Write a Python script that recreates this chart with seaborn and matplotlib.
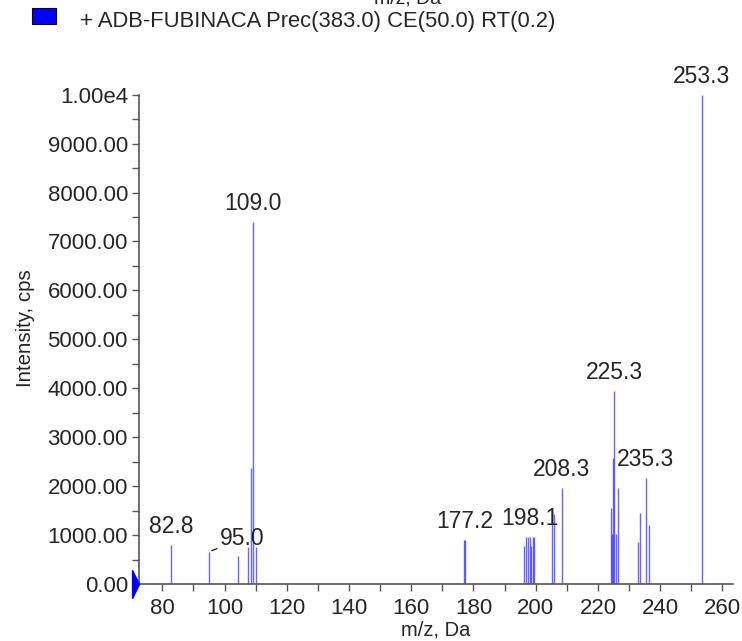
import numpy as np
import pandas as pd
import matplotlib
matplotlib.use('Agg')
import matplotlib.pyplot as plt
import matplotlib.ticker as mticker
import seaborn as sns

# peak list (m/z, intensity in cps)
mz = [82.8, 95.0, 104.2, 107.6, 108.4, 109.0, 110.0,
      176.9, 177.2,
      196.3, 197.0, 197.4, 198.1, 198.5, 199.2, 199.6,
      205.3, 205.8, 208.3,
      224.1, 224.4, 224.8, 225.3, 225.7, 226.3,
      233.0, 233.4, 235.3, 236.3, 253.3]
intensity = [800, 660, 570, 760, 2380, 7400, 760,
             900, 900,
             780, 960, 960, 960, 780, 960, 960,
             1490, 1430, 1970,
             1560, 1020, 2570, 3950, 1020, 1960,
             850, 1460, 2160, 1210, 10000]

# labelled peaks
label_mz = [82.8, 109.0, 177.2, 198.1, 208.3, 225.3, 235.3, 253.3]
label_int = [800, 7400, 900, 960, 1970, 3950, 2160, 10000]

legend_text = '+ ADB-FUBINACA Prec(383.0) CE(50.0) RT(0.2)'

df = pd.DataFrame({'mz': mz, 'intensity': intensity})

sns.set_style('white')
plt.rcParams['font.family'] = ['Liberation Sans', 'DejaVu Sans']

fig = plt.figure(figsize=(7.42, 6.41), dpi=100)
ax = fig.add_axes([139/742, 1-584/641, (733-139)/742, (584-94.7)/641])

ax.vlines(df['mz'], 0, df['intensity'], color='blue', alpha=0.6, lw=1.0)

ax.set_xlim(72.5, 263.4)
ax.set_ylim(0, 10000)

# peak labels, centred just above each peak
for m, v in zip(label_mz, label_int):
    ax.annotate(f'{m:.1f}', xy=(m, v), xytext=(0, 5), textcoords='offset points',
                ha='center', va='bottom', fontsize=16.5, annotation_clip=False)
# 95.0 has a leader line
ax.annotate('95.0', xy=(95.0, 660), xytext=(105.8, 920), ha='center', va='center',
            fontsize=16.5, arrowprops=dict(arrowstyle='-', color='black', lw=0.8,
                                           shrinkA=0, shrinkB=2))

ax.xaxis.set_major_locator(mticker.MultipleLocator(20))
ax.xaxis.set_minor_locator(mticker.MultipleLocator(10))
ax.yaxis.set_major_locator(mticker.MultipleLocator(1000))
ax.yaxis.set_minor_locator(mticker.MultipleLocator(500))
ax.yaxis.set_major_formatter(mticker.FuncFormatter(
    lambda v, p: '1.00e4' if v >= 10000 else f'{v:.2f}'))
ax.tick_params(which='both', direction='out', length=5, width=1, color='#555555',
               labelsize=16, bottom=True, left=True)
ax.tick_params(axis='x', pad=5)
ax.tick_params(axis='y', pad=3)

sns.despine(ax=ax)
for s in ['left', 'bottom']:
    ax.spines[s].set_color('#555555')
    ax.spines[s].set_linewidth(1.2)

ax.set_xlabel('m/z, Da', fontsize=14.5)
ax.set_ylabel('Intensity, cps', fontsize=14.8)
ax.xaxis.set_label_coords(0.5, -(630 - 584) / (584 - 94.7), transform=ax.transAxes)
ax.yaxis.set_label_coords(-(139 - 25) / (733 - 139), (584 - 328) / (584 - 94.7),
                          transform=ax.transAxes)
ax.xaxis.label.set_va('center')
ax.yaxis.label.set_va('center')

# blue zero marker on the y axis
ax.plot([72.5], [0], marker=[(-1, -2), (0, 0), (-1, 2), (-1, -2)], markersize=20,
        color='blue', clip_on=False, zorder=5)

# legend entry
fig.patches.append(plt.Rectangle((32/742, 1-24/641), 24/742, 16/641,
                                 transform=fig.transFigure, facecolor='blue',
                                 edgecolor='black', lw=0.8))
fig.text(80/742, 1-22/641, legend_text, fontsize=15.8, va='center', ha='left')

# cut-off x label of the panel above
fig.text(408/742, 1-3/641, 'm/z, Da', fontsize=14, va='baseline', ha='center')

plt.savefig('out.png', dpi=100)
